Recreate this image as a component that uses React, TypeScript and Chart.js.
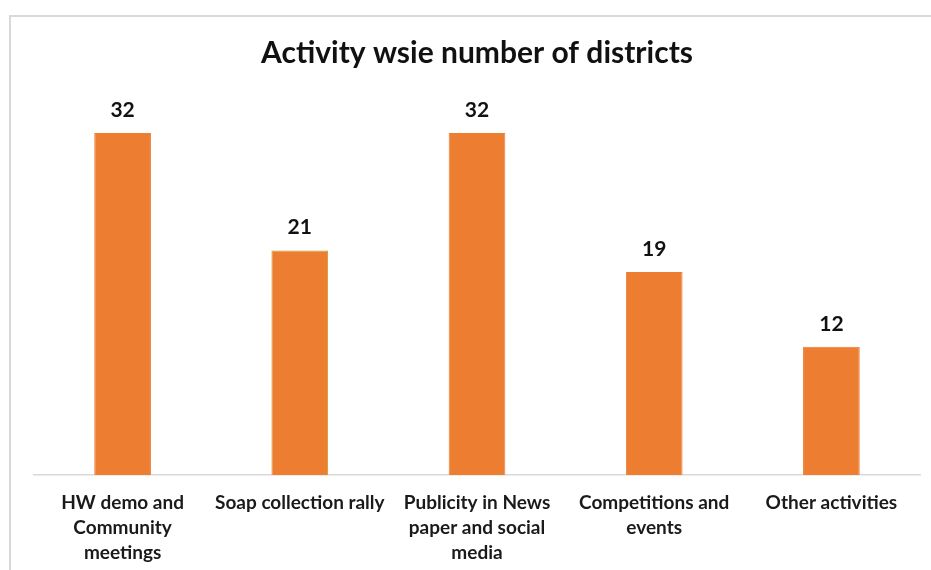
import React, { useEffect, useRef } from "react";
import { Chart, registerables } from "chart.js";

Chart.register(...registerables);

const titleText = "Activity wsie number of districts";
const categories: (string | string[])[] = [
  ["HW demo and", "Community", "meetings"],
  "Soap collection rally",
  ["Publicity in News", "paper and social", "media"],
  ["Competitions and", "events"],
  "Other activities",
];
const values = [32, 21, 32, 19, 12];
const barBorders = ["#ED7D31", "#C99A1E", "#ED7D31", "#ED7D31", "#ED7D31"];

const FONT = "Lato, 'Open Sans', sans-serif";

const frame = {
  id: "frame",
  beforeDraw(chart: any) {
    const ctx = chart.ctx;
    ctx.save();
    ctx.fillStyle = "#ffffff";
    ctx.fillRect(0, 0, chart.width, chart.height);
    ctx.strokeStyle = "#d9d9d9";
    ctx.lineWidth = 2;
    ctx.beginPath();
    ctx.moveTo(10, chart.height + 10);
    ctx.lineTo(10, 16);
    ctx.lineTo(chart.width + 10, 16);
    ctx.stroke();
    ctx.restore();
  },
};

const valueLabels = {
  id: "valueLabels",
  afterDatasetsDraw(chart: any) {
    const ctx = chart.ctx;
    const meta = chart.getDatasetMeta(0);
    ctx.save();
    ctx.font = `bold 21px ${FONT}`;
    ctx.fillStyle = "#111111";
    ctx.textAlign = "center";
    ctx.textBaseline = "middle";
    meta.data.forEach((bar: any, i: number) => {
      ctx.fillText(String(values[i]), bar.x, bar.y - 23);
    });
    ctx.restore();
  },
};

export default function App() {
  const ref = useRef<HTMLCanvasElement>(null);
  useEffect(() => {
    document.body.style.margin = "0";
    const chart = new Chart(ref.current!, {
      type: "bar",
      data: {
        labels: categories,
        datasets: [
          {
            data: values,
            backgroundColor: "#ED7D31",
            borderColor: barBorders,
            borderWidth: 1,
            barPercentage: 0.32,
            categoryPercentage: 1,
          },
        ],
      },
      options: {
        animation: false,
        responsive: false,
        devicePixelRatio: 1,
        layout: { padding: { left: 34, right: 11, top: 15, bottom: 0 } },
        plugins: {
          legend: { display: false },
          tooltip: { enabled: false },
          title: {
            display: true,
            text: titleText,
            color: "#111111",
            font: { family: FONT, size: 30, weight: "bold", lineHeight: 1.2 },
            padding: { top: 20, bottom: 30 },
          },
        },
        scales: {
          x: {
            grid: { display: false, drawTicks: false },
            border: { display: true, color: "#d9d9d9", width: 1.5 },
            ticks: {
              color: "#1a1a1a",
              padding: 15,
              maxRotation: 0,
              autoSkip: false,
              font: { family: FONT, size: 19, weight: "bold", lineHeight: 1.32 },
            },
            afterFit(scale: any) {
              scale.height = 95;
            },
          },
          y: {
            display: false,
            min: 0,
            max: 35,
          },
        },
      },
      plugins: [frame, valueLabels],
    });
    return () => chart.destroy();
  }, []);
  return <canvas ref={ref} width={931} height={570} style={{ display: "block" }} />;
}
